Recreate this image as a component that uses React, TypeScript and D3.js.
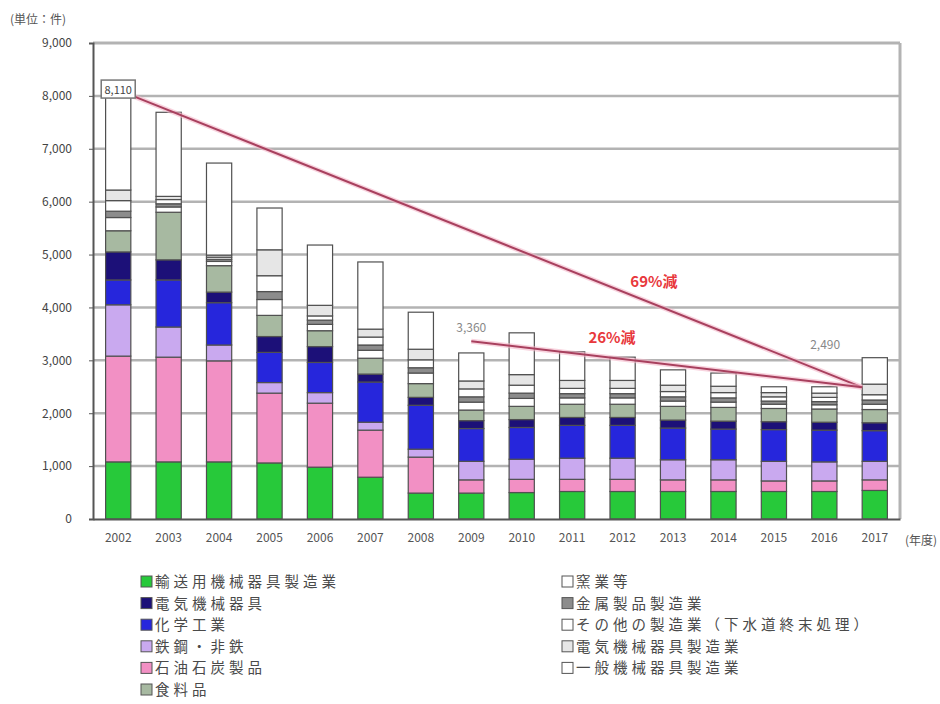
import React, { useEffect, useRef } from 'react';
import * as d3 from 'd3';

// fiscal years on the x axis
const years = ['2002', '2003', '2004', '2005', '2006', '2007', '2008', '2009', '2010', '2011', '2012', '2013', '2014', '2015', '2016', '2017'];

// stacked series, bottom to top
const greenVals = [1080, 1080, 1080, 1060, 980, 790, 490, 490, 500, 520, 520, 520, 520, 520, 520, 540];
const pinkVals = [2000, 1980, 1910, 1320, 1210, 890, 680, 250, 250, 230, 230, 220, 220, 200, 200, 200];
const lavenderVals = [970, 570, 300, 200, 200, 150, 150, 350, 380, 400, 400, 380, 380, 370, 360, 350];
const blueVals = [470, 890, 800, 570, 570, 760, 830, 620, 600, 620, 620, 600, 580, 600, 600, 580];
const navyVals = [530, 380, 200, 300, 300, 150, 150, 150, 150, 150, 150, 150, 150, 150, 150, 150];
const sageVals = [400, 900, 500, 400, 300, 300, 260, 200, 250, 250, 250, 260, 260, 250, 250, 250];
const rubberVals = [250, 100, 80, 300, 120, 150, 200, 150, 150, 120, 120, 100, 100, 80, 80, 100];
const metalVals = [120, 60, 40, 150, 80, 100, 100, 100, 100, 80, 80, 80, 80, 60, 60, 80];
const otherVals = [200, 80, 40, 300, 80, 150, 150, 150, 150, 100, 100, 100, 100, 80, 80, 100];
const elecVals = [200, 60, 40, 490, 200, 150, 200, 150, 200, 150, 150, 120, 120, 80, 80, 200];
const machVals = [1890, 1590, 1740, 790, 1140, 1270, 700, 530, 790, 540, 440, 290, 250, 110, 120, 500];

const seriesNames = [
  '輸送用機械器具製造業',
  '石油石炭製品',
  '鉄鋼・非鉄',
  '化学工業',
  '電気機械器具',
  '食料品',
  '窯業等',
  '金属製品製造業',
  'その他の製造業（下水道終末処理）',
  '電気機械器具製造業',
  '一般機械器具製造業',
];
const seriesValues = [greenVals, pinkVals, lavenderVals, blueVals, navyVals, sageVals, rubberVals, metalVals, otherVals, elecVals, machVals];
const seriesColors = ['#27c93a', '#f290c4', '#c9a9ef', '#2626dc', '#1c1078', '#a7b9a1', '#ffffff', '#8c8c8c', '#ffffff', '#e6e6e6', '#ffffff'];

// legend order: left column then right column (indexes into series)
const legendLeft = [0, 4, 3, 2, 1, 5];
const legendRight = [6, 7, 8, 9, 10];

const yTicks = [0, 1000, 2000, 3000, 4000, 5000, 6000, 7000, 8000, 9000];

// trend lines and their notes
const trendLong = [{ year: '2002', value: 8110 }, { year: '2017', value: 2490 }];
const trendShort = [{ year: '2009', value: 3360 }, { year: '2017', value: 2490 }];
const longNote = '69%減';
const shortNote = '26%減';
const startLabel = '8,110';
const midLabel = '3,360';
const endLabel = '2,490';

const App: React.FC = () => {
  const ref = useRef<SVGSVGElement>(null);

  useEffect(() => {
    if (!ref.current) return;
    const svg = d3.select(ref.current);
    svg.selectAll('*').remove();

    const left = 93, right = 900, top = 43, bottom = 519;
    const font = '"Noto Sans CJK JP", "Noto Sans", sans-serif';

    const x = d3.scaleBand<string>().domain(years).range([left, right]).paddingInner(0.5).paddingOuter(0.25);
    const y = d3.scaleLinear().domain([0, 9000]).range([bottom, top]);
    const bw = x.bandwidth();

    // grid
    svg.append('g')
      .selectAll('line')
      .data(yTicks.filter((t) => t > 0))
      .join('line')
      .attr('x1', left).attr('x2', right)
      .attr('y1', (d) => y(d)).attr('y2', (d) => y(d))
      .attr('stroke', '#b3b3b3')
      .attr('stroke-width', (d) => (d === 9000 ? 3 : 2.5));

    svg.append('line')
      .attr('x1', right).attr('x2', right).attr('y1', top).attr('y2', bottom)
      .attr('stroke', '#b3b3b3').attr('stroke-width', 3);

    // stacked bars
    const rows = years.map((yr, i) => {
      const r: any = { year: yr };
      seriesValues.forEach((vals, k) => (r['s' + k] = vals[i]));
      return r;
    });
    const stack = d3.stack<any>().keys(seriesValues.map((_, k) => 's' + k));
    const layers = stack(rows);

    svg.append('g')
      .selectAll('g')
      .data(layers)
      .join('g')
      .attr('fill', (_, k) => seriesColors[k])
      .selectAll('rect')
      .data((d) => d)
      .join('rect')
      .attr('x', (d) => x(d.data.year)!)
      .attr('width', bw)
      .attr('y', (d) => y(d[1]))
      .attr('height', (d) => Math.max(0, y(d[0]) - y(d[1])))
      .attr('stroke', '#505050')
      .attr('stroke-width', 1.2);

    // axes
    const yAxis = svg.append('g')
      .attr('transform', `translate(${left},0)`)
      .call(d3.axisLeft(y).tickValues(yTicks).tickSize(4).tickFormat(d3.format(',')));
    yAxis.select('.domain').attr('stroke', '#555').attr('stroke-width', 2);
    yAxis.selectAll('line').attr('stroke', '#555');
    yAxis.selectAll('text').attr('x', -21).attr('font-size', 12).attr('fill', '#444').attr('font-family', font);

    const xAxis = svg.append('g')
      .attr('transform', `translate(0,${bottom})`)
      .call(d3.axisBottom(x).tickSize(0).tickPadding(14));
    xAxis.select('.domain').attr('stroke', '#555').attr('stroke-width', 2);
    xAxis.selectAll('text').attr('font-size', 12).attr('fill', '#555').attr('font-family', font);

    svg.append('text')
      .attr('x', 905).attr('y', 545)
      .attr('font-size', 12).attr('fill', '#555').attr('font-family', font)
      .text('(年度)');

    svg.append('text')
      .attr('x', 10).attr('y', 24)
      .attr('font-size', 12).attr('fill', '#555').attr('font-family', font)
      .text('(単位：件)');

    // trend lines
    const pt = (p: { year: string; value: number }, end: boolean) =>
      [x(p.year)! + (end ? 0 : bw / 2), y(p.value)] as [number, number];
    const lineGen = d3.line();
    [trendLong, trendShort].forEach((tr) => {
      svg.append('path')
        .attr('d', lineGen([pt(tr[0], false), pt(tr[1], true)]))
        .attr('fill', 'none')
        .attr('stroke', '#f4b6c8').attr('stroke-width', 5).attr('opacity', 0.6);
      svg.append('path')
        .attr('d', lineGen([pt(tr[0], false), pt(tr[1], true)]))
        .attr('fill', 'none')
        .attr('stroke', '#a8405e').attr('stroke-width', 2);
    });

    const noteAt = (tr: typeof trendLong, f: number, dy: number, txt: string) => {
      const a = pt(tr[0], false), b = pt(tr[1], true);
      svg.append('text')
        .attr('x', a[0] + (b[0] - a[0]) * f)
        .attr('y', a[1] + (b[1] - a[1]) * f + dy)
        .attr('text-anchor', 'middle')
        .attr('font-size', 15).attr('font-weight', 'bold')
        .attr('fill', '#e8383c').attr('font-family', font)
        .text(txt);
    };
    noteAt(trendLong, 0.72, -17, longNote);
    noteAt(trendShort, 0.36, -15, shortNote);

    // value labels
    const s0 = pt(trendLong[0], false);
    svg.append('rect')
      .attr('x', s0[0] - 17).attr('y', s0[1] - 10).attr('width', 34).attr('height', 18)
      .attr('fill', '#fff').attr('stroke', '#777').attr('stroke-width', 1.5);
    svg.append('text')
      .attr('x', s0[0]).attr('y', s0[1] + 4)
      .attr('text-anchor', 'middle').attr('font-size', 11).attr('fill', '#444').attr('font-family', font)
      .text(startLabel);

    const m0 = pt(trendShort[0], false);
    svg.append('text')
      .attr('x', m0[0]).attr('y', m0[1] - 9)
      .attr('text-anchor', 'middle').attr('font-size', 12).attr('fill', '#888').attr('font-family', font)
      .text(midLabel);

    const e0 = pt(trendLong[1], true);
    svg.append('text')
      .attr('x', e0[0] - 37).attr('y', e0[1] - 38)
      .attr('text-anchor', 'middle').attr('font-size', 12).attr('fill', '#888').attr('font-family', font)
      .text(endLabel);

    // legend
    const drawLegend = (items: number[], lx: number) => {
      items.forEach((k, i) => {
        const ly = 582 + i * 21.6;
        svg.append('rect')
          .attr('x', lx).attr('y', ly - 6).attr('width', 11).attr('height', 11)
          .attr('fill', seriesColors[k]).attr('stroke', '#555').attr('stroke-width', 1);
        svg.append('text')
          .attr('x', lx + 14).attr('y', ly + 5)
          .attr('font-size', 14.5).attr('letter-spacing', 4)
          .attr('fill', '#4a4a4a').attr('font-family', font)
          .text(seriesNames[k]);
      });
    };
    drawLegend(legendLeft, 141);
    drawLegend(legendRight, 562);
  }, []);

  return (
    <svg
      ref={ref}
      width={940}
      height={704}
      style={{ position: 'absolute', left: 0, top: 0, background: '#fff' }}
    />
  );
};

export default App;
